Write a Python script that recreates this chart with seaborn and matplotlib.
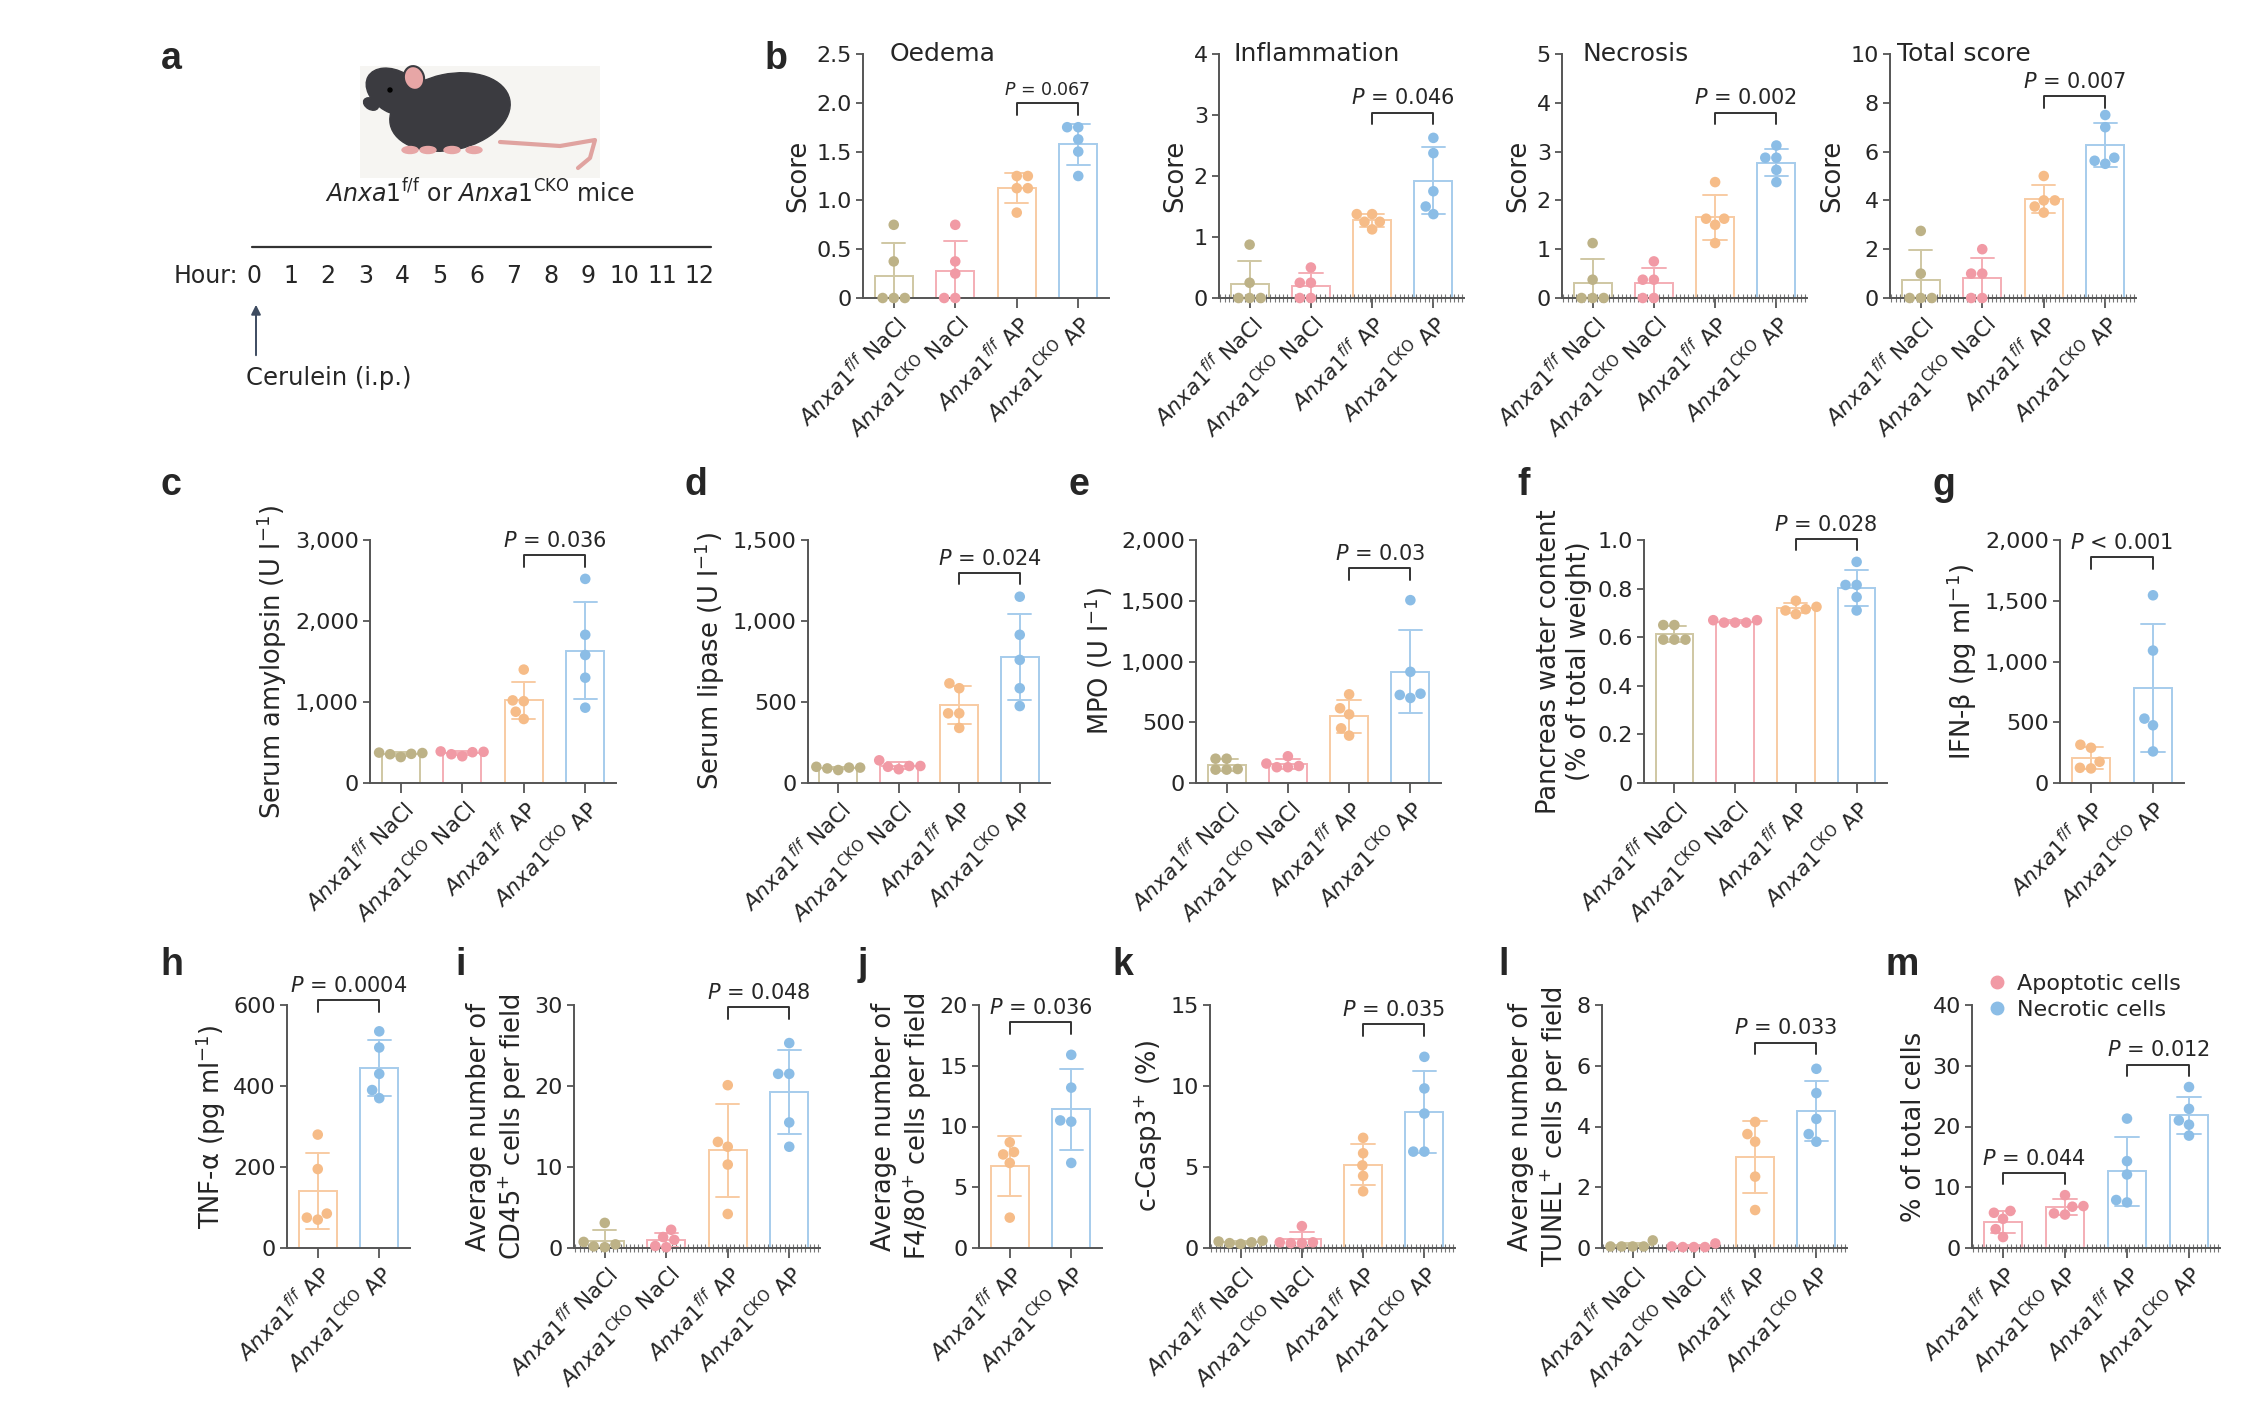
import numpy as np
import pandas as pd
import seaborn as sns
import matplotlib.pyplot as plt
from matplotlib.patches import Ellipse, Rectangle
from matplotlib.lines import Line2D
from matplotlib.ticker import MultipleLocator

sns.set_theme(style='ticks')
plt.rcParams['font.family'] = ['DejaVu Sans']
plt.rcParams['mathtext.fontset'] = 'dejavusans'
plt.rcParams['axes.edgecolor'] = '#555555'
plt.rcParams['axes.linewidth'] = 1.4

# ---- data ----
groups4 = ['ff NaCl', 'CKO NaCl', 'ff AP', 'CKO AP']
groups2 = ['ff AP', 'CKO AP']
groups_m = ['apo ff AP', 'apo CKO AP', 'nec ff AP', 'nec CKO AP']

oedema = [[0, 0, 0, 0.375, 0.75], [0, 0, 0.25, 0.375, 0.75],
          [1.25, 1.25, 1.125, 1.125, 0.875], [1.75, 1.75, 1.625, 1.5, 1.25]]
inflammation = [[0, 0, 0, 0.25, 0.875], [0, 0, 0.25, 0.25, 0.5],
                [1.375, 1.375, 1.25, 1.25, 1.125], [2.625, 2.375, 1.75, 1.5, 1.375]]
necrosis = [[0, 0, 0, 0.375, 1.125], [0, 0, 0.375, 0.375, 0.75],
            [2.375, 1.625, 1.625, 1.5, 1.125], [3.125, 2.875, 2.875, 2.625, 2.375]]
total_score = [[0, 0, 0, 1, 2.75], [0, 0, 1, 1, 2],
               [5, 4, 4, 3.75, 3.5], [7.5, 7, 5.75, 5.5, 5.625]]
amylopsin = [[355, 375, 360, 370, 320], [355, 390, 380, 385, 330],
             [1400, 1010, 1020, 880, 790], [2520, 1830, 1580, 1300, 930]]
lipase = [[90, 100, 95, 95, 80], [140, 105, 100, 105, 85],
          [615, 585, 430, 430, 340], [1150, 915, 760, 585, 475]]
mpo = [[200, 200, 110, 110, 115], [220, 160, 140, 130, 130],
       [730, 615, 565, 450, 390], [1505, 915, 735, 700, 725]]
water = [[0.65, 0.65, 0.59, 0.59, 0.59], [0.66, 0.67, 0.66, 0.67, 0.66],
         [0.75, 0.725, 0.71, 0.715, 0.695], [0.91, 0.815, 0.815, 0.765, 0.71]]
ifn_b = [[315, 290, 175, 120, 125], [1545, 1090, 530, 475, 260]]
tnf_a = [[280, 195, 85, 75, 70], [535, 495, 430, 390, 370]]
cd45 = [[3.1, 0.75, 0.1, 0.2, 0.45], [2.25, 1.35, 1.0, 0.1, 0.25],
        [20.1, 13.1, 12.5, 10.3, 4.2], [25.3, 21.5, 21.5, 15.5, 12.5]]
f480 = [[8.7, 7.7, 7.9, 7.0, 2.5], [15.9, 13.2, 10.5, 10.4, 7.0]]
casp3 = [[0.45, 0.35, 0.3, 0.4, 0.25], [1.35, 0.3, 0.35, 0.35, 0.3],
         [6.8, 5.85, 5.1, 4.45, 3.5], [11.8, 9.85, 8.3, 5.95, 5.95]]
tunel = [[0.25, 0.05, 0.05, 0.05, 0.05], [0.15, 0.05, 0.03, 0.03, 0.03],
         [4.15, 3.75, 3.5, 2.35, 1.25], [5.9, 5.1, 4.25, 3.75, 3.5]]
cell_death = [[6.1, 5.8, 4.8, 3.1, 1.8], [8.7, 6.9, 6.8, 5.7, 5.5],
              [21.3, 14.3, 12.1, 7.9, 7.5], [26.5, 22.9, 21.0, 20.3, 18.5]]

hours = list(range(13))

xlab4 = [r'$\mathit{Anxa1}^{\mathit{f/f}}$ NaCl', r'$\mathit{Anxa1}^{\mathrm{CKO}}$ NaCl',
         r'$\mathit{Anxa1}^{\mathit{f/f}}$ AP', r'$\mathit{Anxa1}^{\mathrm{CKO}}$ AP']
xlab2 = xlab4[2:]
xlab_m = xlab2 + xlab2

# colours
dot_col = {'tan': '#BDB287', 'pink': '#F19AA5', 'orange': '#F6BC88', 'blue': '#8BBDE6'}
bar_col = {'tan': '#CFC7A3', 'pink': '#F4AEB6', 'orange': '#F8CBA3', 'blue': '#A6CCEC'}
cols4 = ['tan', 'pink', 'orange', 'blue']
cols2 = ['orange', 'blue']
cols_m = ['pink', 'pink', 'blue', 'blue']

W, H = 2260, 1401
fig = plt.figure(figsize=(W / 100, H / 100), dpi=100)


def add_ax(x0, x1, y0, y1):
    return fig.add_axes([x0 / W, 1 - y1 / H, (x1 - x0) / W, (y1 - y0) / H])


def panel(ax, values, groups, cols, yticks, ylabel, xlabels, brackets,
          ytl=None, minor=False, psize=15):
    df = pd.DataFrame({'group': np.repeat(groups, [len(v) for v in values]),
                       'value': np.concatenate(values)})
    sns.barplot(data=df, x='group', y='value', hue='group', order=groups, hue_order=groups,
                palette=[bar_col[c] for c in cols], saturation=1, fill=False,
                errorbar='sd', capsize=0.38, width=0.62, linewidth=1.4,
                err_kws={'linewidth': 1.4}, dodge=False, legend=False, ax=ax)
    sns.swarmplot(data=df, x='group', y='value', hue='group', order=groups, hue_order=groups,
                  palette=[dot_col[c] for c in cols], size=7.6, linewidth=0,
                  dodge=False, legend=False, ax=ax, zorder=4)
    for coll in ax.collections:
        coll.set_clip_on(False)
    ax.set_xlim(-0.5, len(groups) - 0.5)
    ax.set_ylim(0, yticks[-1])
    ax.set_yticks(yticks)
    ax.set_yticklabels(ytl if ytl is not None else [f'{t:,}' for t in yticks])
    ax.set_xticks(range(len(groups)))
    ax.set_xticklabels(xlabels, rotation=45, ha='right', rotation_mode='anchor', fontsize=15.5)
    ax.set_xlabel('')
    ax.set_ylabel(ylabel, fontsize=18.5)
    ax.tick_params(axis='y', length=5, width=1.3, color='#555555', labelsize=16, pad=3)
    ax.tick_params(axis='x', length=7, width=1.3, color='#555555', pad=3)
    if minor:
        ax.xaxis.set_minor_locator(MultipleLocator(0.068))
        ax.tick_params(axis='x', which='minor', length=6, width=0.8,
                       direction='inout', color='#777777')
    sns.despine(ax=ax)
    top = yticks[-1]
    for i, j, frac, txt in brackets:
        y = frac * top
        leg = 0.048 * top
        ax.plot([i, i, j, j], [y - leg, y, y, y - leg], color='#333333', lw=1.4, clip_on=False)
        ax.annotate(r'$\mathit{P}$' + txt, xy=((i + j) / 2, y), xytext=(0, 3),
                    textcoords='offset points', ha='center', va='bottom',
                    fontsize=psize, annotation_clip=False)


# ---- panel b ----
b_specs = [
    (863, 1109, oedema, [0, 0.5, 1.0, 1.5, 2.0, 2.5], ['0', '0.5', '1.0', '1.5', '2.0', '2.5'],
     'Oedema', 0.11, (2, 3, 0.80, ' = 0.067'), False, 12.5),
    (1219, 1464, inflammation, [0, 1, 2, 3, 4], None, 'Inflammation', 0.06,
     (2, 3, 0.76, ' = 0.046'), True, 15),
    (1562, 1807, necrosis, [0, 1, 2, 3, 4, 5], None, 'Necrosis', 0.085,
     (2, 3, 0.76, ' = 0.002'), True, 15),
    (1890, 2136, total_score, [0, 2, 4, 6, 8, 10], None, 'Total score', 0.03,
     (2, 3, 0.826, ' = 0.007'), True, 15),
]
for x0, x1, vals, yt, ytl, title, tx, br, mnr, ps in b_specs:
    ax = add_ax(x0, x1, 54, 298)
    panel(ax, vals, groups4, cols4, yt, 'Score', xlab4, [br], ytl=ytl, minor=mnr, psize=ps)
    ax.text(tx, 1.0, title, transform=ax.transAxes, va='center', ha='left', fontsize=18)

# ---- row 2 ----
ax = add_ax(370, 616, 540, 783)
panel(ax, amylopsin, groups4, cols4, [0, 1000, 2000, 3000], r'Serum amylopsin (U l$^{-1}$)',
      xlab4, [(2, 3, 0.938, ' = 0.036')])
ax = add_ax(808, 1050, 540, 783)
panel(ax, lipase, groups4, cols4, [0, 500, 1000, 1500], r'Serum lipase (U l$^{-1}$)',
      xlab4, [(2, 3, 0.865, ' = 0.024')])
ax = add_ax(1196, 1441, 540, 783)
panel(ax, mpo, groups4, cols4, [0, 500, 1000, 1500, 2000], r'MPO (U l$^{-1}$)',
      xlab4, [(2, 3, 0.883, ' = 0.03')])
ax = add_ax(1644, 1887, 540, 783)
panel(ax, water, groups4, cols4, [0, 0.2, 0.4, 0.6, 0.8, 1.0],
      'Pancreas water content\n(% of total weight)', xlab4, [(2, 3, 1.005, ' = 0.028')],
      ytl=['0', '0.2', '0.4', '0.6', '0.8', '1.0'])
ax = add_ax(2060, 2184, 540, 783)
panel(ax, ifn_b, groups2, cols2, [0, 500, 1000, 1500, 2000], r'IFN-β (pg ml$^{-1}$)',
      xlab2, [(0, 1, 0.93, ' < 0.001')])

# ---- row 3 ----
ax = add_ax(287, 410, 1005, 1248)
panel(ax, tnf_a, groups2, cols2, [0, 200, 400, 600], r'TNF-α (pg ml$^{-1}$)',
      xlab2, [(0, 1, 1.02, ' = 0.0004')])
ax = add_ax(574, 820, 1005, 1248)
panel(ax, cd45, groups4, cols4, [0, 10, 20, 30],
      'Average number of\nCD45$^{+}$ cells per field', xlab4, [(2, 3, 0.99, ' = 0.048')],
      minor=True)
ax = add_ax(979, 1102, 1005, 1248)
panel(ax, f480, groups2, cols2, [0, 5, 10, 15, 20],
      'Average number of\nF4/80$^{+}$ cells per field', xlab2, [(0, 1, 0.93, ' = 0.036')])
ax = add_ax(1210, 1455, 1005, 1248)
panel(ax, casp3, groups4, cols4, [0, 5, 10, 15], 'c-Casp3$^{+}$ (%)',
      xlab4, [(2, 3, 0.92, ' = 0.035')], minor=True)
ax = add_ax(1602, 1847, 1005, 1248)
panel(ax, tunel, groups4, cols4, [0, 2, 4, 6, 8],
      'Average number of\nTUNEL$^{+}$ cells per field', xlab4, [(2, 3, 0.845, ' = 0.033')],
      minor=True)
ax_m = add_ax(1972, 2220, 1005, 1248)
panel(ax_m, cell_death, groups_m, cols_m, [0, 10, 20, 30, 40], '% of total cells',
      xlab_m, [(0, 1, 0.31, ' = 0.044'), (2, 3, 0.755, ' = 0.012')], minor=True)
handles = [Line2D([], [], marker='o', ls='', color=dot_col['pink'], markersize=9),
           Line2D([], [], marker='o', ls='', color=dot_col['blue'], markersize=9)]
ax_m.legend(handles, ['Apoptotic cells', 'Necrotic cells'], loc='center left',
            bbox_to_anchor=(1988 / W, 1 - 997 / H), bbox_transform=fig.transFigure,
            frameon=False, fontsize=16, handlelength=0.8, handletextpad=0.5,
            labelspacing=0.25, borderpad=0, borderaxespad=0)

# ---- panel a (schematic) and panel letters, in pixel coordinates ----
ov = fig.add_axes([0, 0, 1, 1], zorder=-1)
ov.set_xlim(0, W)
ov.set_ylim(H, 0)
ov.axis('off')

ov.add_patch(Rectangle((360, 66), 240, 112, color='#F6F5F2', lw=0))
ov.plot([500, 560, 595, 590, 578], [142, 146, 140, 158, 168], color='#E0A3A0', lw=3,
        solid_capstyle='round')
ov.add_patch(Ellipse((450, 112), 122, 76, angle=-12, color='#3B3B40'))
ov.add_patch(Ellipse((395, 92), 62, 42, angle=30, color='#3B3B40'))
ov.add_patch(Ellipse((371, 104), 16, 11, angle=30, color='#3B3B40'))
ov.add_patch(Ellipse((414, 78), 20, 24, angle=-15, color='#E7A6A6', ec='#3B3B40', lw=1.5))
ov.add_patch(Ellipse((390, 90), 4, 4, color='black'))
for fx in (410, 428, 452, 474):
    ov.add_patch(Ellipse((fx, 150), 16, 7, color='#E7A6A6'))
ov.text(480, 193, r'$\mathit{Anxa1}^{\mathrm{f/f}}$ or $\mathit{Anxa1}^{\mathrm{CKO}}$ mice',
        ha='center', va='center', fontsize=17)
ov.plot([252, 711], [247, 247], color='#333333', lw=1.6)
ov.text(238, 276, 'Hour:', ha='right', va='center', fontsize=17)
hx0, hx1 = 254, 699
for h in hours:
    ov.text(hx0 + h * (hx1 - hx0) / 12, 276, str(h), ha='center', va='center', fontsize=17)
ov.annotate('', xy=(256, 302), xytext=(256, 358),
            arrowprops=dict(arrowstyle='-|>', color='#3D4B60', lw=1.4, mutation_scale=14))
ov.text(246, 378, 'Cerulein (i.p.)', ha='left', va='center', fontsize=17.5)

letters = [('a', 161, 69), ('b', 765, 69), ('c', 160, 495), ('d', 684, 495), ('e', 1069, 495),
           ('f', 1517, 495), ('g', 1933, 495), ('h', 160, 975), ('i', 455, 975),
           ('j', 858, 975), ('k', 1112, 975), ('l', 1498, 975), ('m', 1885, 975)]
for s, lx, ly in letters:
    ov.text(lx, ly, s, ha='left', va='baseline', fontsize=27, fontweight='bold',
            fontfamily='Liberation Sans')

fig.savefig('out.png', dpi=100, facecolor='white')
